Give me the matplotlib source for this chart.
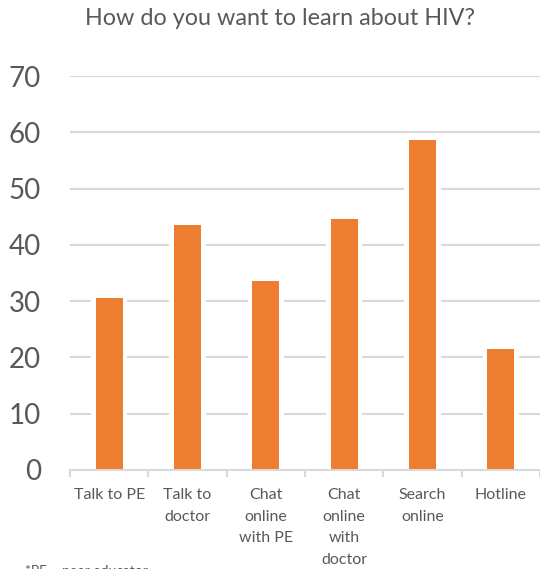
import matplotlib
matplotlib.use("Agg")
import matplotlib.pyplot as plt
import numpy as np

# values
categories = ["Talk to PE", "Talk to\ndoctor", "Chat\nonline\nwith PE",
              "Chat\nonline\nwith\ndoctor", "Search\nonline", "Hotline"]
values = [30.6, 43.6, 33.6, 44.6, 58.6, 21.5]
yticks = [0, 10, 20, 30, 40, 50, 60, 70]

orange = "#ED7D31"
grey_txt = "#595959"
grey_line = "#D9D9D9"

plt.rcParams['font.family'] = ['Lato', 'DejaVu Sans']

W, H = 540, 569
fig = plt.figure(figsize=(W/100, H/100), dpi=100)
ax = fig.add_axes([70/W, 1-470/H, 470/W, (470-76)/H])

x = np.arange(len(categories))
# gridlines
for t in yticks[1:]:
    ax.axhline(t, color=grey_line, lw=1.5, zorder=0)
# white border behind each bar, like excel
ax.bar(x, [v + 1.2 for v in values], width=0.46, color="white", zorder=1)
ax.bar(x, values, width=0.345, color=orange, zorder=2)

ax.set_xlim(-0.5, len(categories) - 0.5)
ax.set_ylim(0, 70)
ax.set_yticks(yticks)
ax.set_yticklabels([str(t) for t in yticks], fontsize=20, color=grey_txt)
ax.tick_params(axis='y', length=0, pad=21)

ax.set_xticks(x)
ax.set_xticklabels(categories, fontsize=11.5, color=grey_txt, linespacing=1.7)
ax.tick_params(axis='x', length=0, pad=13)
# boundary ticks on the category axis
ax.set_xticks(np.arange(-0.5, len(categories)), minor=True)
ax.tick_params(axis='x', which='minor', length=5, color=grey_line, width=1.5)

for s in ["top", "right", "left"]:
    ax.spines[s].set_visible(False)
ax.spines["bottom"].set_color(grey_line)
ax.spines["bottom"].set_linewidth(1.5)
ax.spines["bottom"].set_zorder(3)

fig.text(280/W, 1-25/H, "How do you want to learn about HIV?", ha="center",
         va="baseline", fontsize=16.8, color=grey_txt)
# footnote, cut off at the bottom edge in the original
fig.text(25/W, 1-565/H, "*PE = peer educator", ha="left", va="top",
         fontsize=10, color=grey_txt)

fig.savefig("out.png", dpi=100)
